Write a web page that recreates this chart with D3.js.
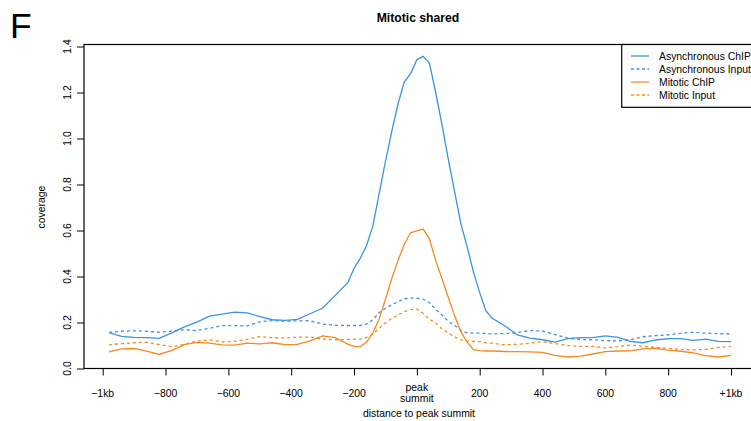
<!DOCTYPE html>
<html>
<head>
<meta charset="utf-8">
<script src="https://cdn.jsdelivr.net/npm/d3@7"></script>
<style>
  body { margin: 0; background: #fff; }
  svg { display: block; font-family: "Liberation Sans", Arial, sans-serif; }
</style>
</head>
<body>
<div id="chart"></div>
<script>
// distance to peak summit (bp)
var positions = [-980, -940, -900, -860, -820, -780, -740, -700, -660, -620,
  -580, -540, -500, -460, -420, -380, -340, -300, -260, -220,
  -200, -180, -160, -140, -120, -100, -80, -60, -40, -20,
  0, 20, 40, 60, 80, 100, 120, 140, 160, 180, 200, 220, 240,
  280, 320, 360, 400, 440, 480, 520, 560, 600, 640, 680, 720,
  760, 800, 840, 880, 920, 960, 1000];

var asyncChip = [0.156, 0.14, 0.135, 0.134, 0.131, 0.155, 0.181, 0.202, 0.228, 0.236,
  0.245, 0.242, 0.226, 0.212, 0.209, 0.214, 0.238, 0.262, 0.318, 0.373,
  0.435, 0.48, 0.535, 0.62, 0.76, 0.90, 1.03, 1.15, 1.245, 1.282,
  1.342, 1.357, 1.328, 1.20, 1.06, 0.91, 0.77, 0.63, 0.53, 0.42, 0.33, 0.25, 0.218,
  0.186, 0.146, 0.132, 0.125, 0.115, 0.13, 0.134, 0.134, 0.142, 0.135, 0.118, 0.112,
  0.124, 0.13, 0.13, 0.122, 0.128, 0.118, 0.117];

var asyncInput = [0.157, 0.162, 0.164, 0.162, 0.158, 0.163, 0.168, 0.165, 0.175, 0.187,
  0.186, 0.185, 0.203, 0.208, 0.206, 0.207, 0.208, 0.193, 0.188, 0.187,
  0.187, 0.187, 0.193, 0.212, 0.243, 0.262, 0.277, 0.29, 0.303, 0.306,
  0.306, 0.302, 0.286, 0.258, 0.232, 0.205, 0.188, 0.165, 0.155, 0.154, 0.154, 0.152, 0.15,
  0.152, 0.156, 0.165, 0.163, 0.147, 0.132, 0.126, 0.125, 0.121, 0.12, 0.125, 0.138,
  0.143, 0.146, 0.153, 0.158, 0.154, 0.151, 0.151];

var mitChip = [0.072, 0.085, 0.087, 0.076, 0.061, 0.079, 0.104, 0.114, 0.11, 0.103,
  0.102, 0.11, 0.107, 0.112, 0.104, 0.105, 0.12, 0.142, 0.134, 0.106,
  0.096, 0.094, 0.115, 0.155, 0.215, 0.30, 0.39, 0.47, 0.54, 0.59,
  0.598, 0.606, 0.565, 0.47, 0.39, 0.31, 0.23, 0.16, 0.115, 0.082, 0.078, 0.076, 0.076,
  0.074, 0.073, 0.072, 0.07, 0.057, 0.05, 0.054, 0.063, 0.073, 0.076, 0.077, 0.085,
  0.088, 0.08, 0.075, 0.068, 0.056, 0.05, 0.057];

var mitInput = [0.103, 0.108, 0.112, 0.114, 0.104, 0.095, 0.105, 0.119, 0.125, 0.116,
  0.118, 0.127, 0.139, 0.134, 0.133, 0.136, 0.137, 0.128, 0.125, 0.126,
  0.127, 0.128, 0.135, 0.15, 0.175, 0.198, 0.218, 0.232, 0.247, 0.256,
  0.258, 0.24, 0.214, 0.198, 0.172, 0.155, 0.137, 0.124, 0.12, 0.118, 0.117, 0.112, 0.11,
  0.103, 0.105, 0.11, 0.117, 0.108, 0.1, 0.096, 0.096, 0.09, 0.095, 0.102, 0.096,
  0.092, 0.088, 0.082, 0.081, 0.083, 0.092, 0.096];

var xTicks = [-1000, -800, -600, -400, -200, 0, 200, 400, 600, 800, 1000];
var xTickLabels = ["\u22121kb", "\u2212800", "\u2212600", "\u2212400", "\u2212200", "peak\nsummit", "200", "400", "600", "800", "+1kb"];
var yTicks = [0, 0.2, 0.4, 0.6, 0.8, 1.0, 1.2, 1.4];

var seriesNames = ["Asynchronous ChIP", "Asynchronous Input", "Mitotic ChIP", "Mitotic Input"];
var seriesValues = [asyncChip, asyncInput, mitChip, mitInput];
var blue = "#3a92e8", orange = "#f58a1f";
var seriesColors = [blue, blue, orange, orange];
var seriesDashed = [false, true, false, true];

var svgWidth = 751, svgHeight = 421;
var box = { left: 84, right: 770, top: 44.5, bottom: 368.5 };
var fs = 10.4;

var svg = d3.select("#chart").append("svg")
  .attr("width", svgWidth)
  .attr("height", svgHeight);

var x = d3.scaleLinear().domain([-1000, 1000]).range([102.7, 731]);
var y = d3.scaleLinear().domain([0, 1.4]).range([368.5, 46.5]);

// panel letter and title
svg.append("text").attr("x", 10).attr("y", 38.3)
  .attr("font-size", 35.5).attr("fill", "#000").text("F");
svg.append("text").attr("x", 418).attr("y", 22)
  .attr("text-anchor", "middle").attr("font-size", 12.2).attr("font-weight", "bold")
  .text("Mitotic shared");

// lines
var line = d3.line()
  .x(function (d) { return x(d[0]); })
  .y(function (d) { return y(d[1]); });

seriesValues.forEach(function (vals, i) {
  svg.append("path")
    .datum(positions.map(function (p, j) { return [p, vals[j]]; }))
    .attr("d", line)
    .attr("fill", "none")
    .attr("stroke", seriesColors[i])
    .attr("stroke-width", 1.3)
    .attr("stroke-dasharray", seriesDashed[i] ? "3,3" : null);
});

// plot box
svg.append("rect")
  .attr("x", box.left).attr("y", box.top)
  .attr("width", box.right - box.left).attr("height", box.bottom - box.top)
  .attr("fill", "none").attr("stroke", "#000").attr("stroke-width", 1.2);

// x axis
var xAxis = svg.append("g")
  .attr("transform", "translate(0," + box.bottom + ")")
  .call(d3.axisBottom(x).tickValues(xTicks).tickSize(7).tickFormat(""));
xAxis.select(".domain").remove();
xAxis.selectAll(".tick line").attr("stroke", "#000").attr("stroke-width", 1);

xTicks.forEach(function (t, i) {
  var parts = xTickLabels[i].split("\n");
  var txt = svg.append("text")
    .attr("x", x(t)).attr("text-anchor", "middle")
    .attr("font-size", fs).attr("fill", "#000");
  if (parts.length === 1) {
    txt.attr("y", 397).text(parts[0]);
  } else {
    txt.append("tspan").attr("x", x(t)).attr("y", 390.5).text(parts[0]);
    txt.append("tspan").attr("x", x(t)).attr("y", 402).text(parts[1]);
  }
});

svg.append("text").attr("x", 419).attr("y", 417)
  .attr("text-anchor", "middle").attr("font-size", fs)
  .text("distance to peak summit");

// y axis
var yAxis = svg.append("g")
  .attr("transform", "translate(" + box.left + ",0)")
  .call(d3.axisLeft(y).tickValues(yTicks).tickSize(7).tickFormat(""));
yAxis.select(".domain").remove();
yAxis.selectAll(".tick line").attr("stroke", "#000").attr("stroke-width", 1);

yTicks.forEach(function (t) {
  svg.append("text")
    .attr("transform", "translate(67," + y(t) + ") rotate(-90)")
    .attr("text-anchor", "middle").attr("dominant-baseline", "central")
    .attr("font-size", fs).attr("fill", "#000")
    .text(t.toFixed(1));
});

svg.append("text")
  .attr("transform", "translate(41,207) rotate(-90)")
  .attr("text-anchor", "middle").attr("dominant-baseline", "central")
  .attr("font-size", fs).text("coverage");

// legend
var legend = svg.append("g");
legend.append("rect")
  .attr("x", 621.7).attr("y", box.top)
  .attr("width", 160).attr("height", 107.3 - box.top)
  .attr("fill", "#fff").attr("stroke", "#000").attr("stroke-width", 1.2);

seriesNames.forEach(function (name, i) {
  var cy = 56 + i * 13;
  legend.append("line")
    .attr("x1", 631).attr("x2", 649).attr("y1", cy).attr("y2", cy)
    .attr("stroke", seriesColors[i]).attr("stroke-width", 1.3)
    .attr("stroke-dasharray", seriesDashed[i] ? "3,2.5" : null);
  legend.append("text")
    .attr("x", 659).attr("y", cy).attr("dominant-baseline", "central")
    .attr("font-size", fs).text(name);
});
</script>
</body>
</html>
